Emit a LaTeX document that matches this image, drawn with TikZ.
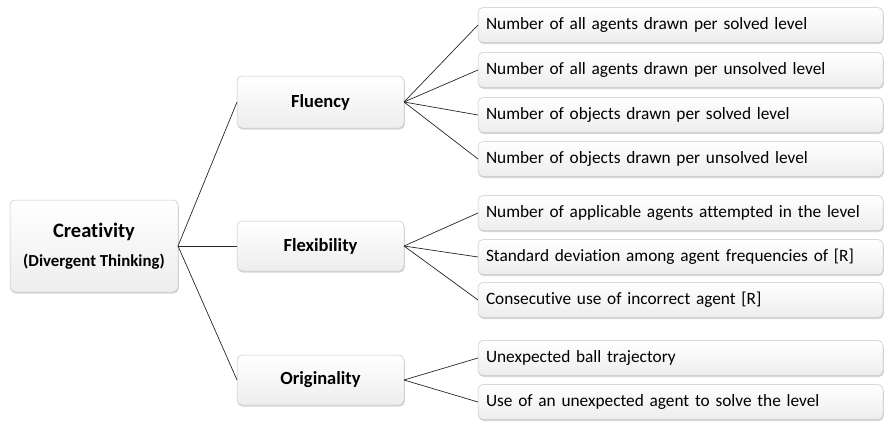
\documentclass[tikz,border=0pt]{standalone}
\usepackage{fontspec}
\setmainfont{Carlito}[Ligatures=NoCommon]
\usetikzlibrary{shadows}
\begin{document}
\begin{tikzpicture}[x=1pt,y=-1pt,
  card/.style={rounded corners=5pt, draw=gray!45, line width=0.5pt,
    top color=white, bottom color=gray!14,
    drop shadow={shadow xshift=0.8pt, shadow yshift=-1.6pt, opacity=0.45, fill=gray!70},
    inner sep=0pt, outer sep=0pt},
  topic/.style={card, minimum width=167pt, minimum height=52pt, font=\fontsize{18.5}{22}\selectfont\bfseries},
  leaf/.style={card, minimum width=405pt, minimum height=35pt, text width=389pt, align=left, font=\fontsize{17.3}{20}\selectfont},
  link/.style={draw=black!85, line width=0.7pt}]
\useasboundingbox (0,0) rectangle (887,423);
\node[card, minimum width=168pt, minimum height=92pt, align=center] (root) at (94,246)
  {{\fontsize{20.5}{24}\selectfont\bfseries Creativity}\\[12pt]{\fontsize{16.8}{19}\selectfont\bfseries (Divergent Thinking)}};
\node[topic] (flu) at (320.5,102) {Fluency};
\node[topic, minimum height=50pt] (fle) at (320.5,246) {Flexibility};
\node[topic, minimum height=50pt] (ori) at (320.5,380) {Originality};
\node[leaf] (a1) at (680.5,25) {Number of all agents drawn per solved level};
\node[leaf] (a2) at (680.5,70) {Number of all agents drawn per unsolved level};
\node[leaf] (a3) at (680.5,115) {Number of objects drawn per solved level};
\node[leaf] (a4) at (680.5,159) {Number of objects drawn per unsolved level};
\node[leaf] (b1) at (680.5,213) {Number of applicable agents attempted in the level};
\node[leaf] (b2) at (680.5,257) {Standard deviation among agent frequencies of [R]};
\node[leaf] (b3) at (680.5,300) {Consecutive use of incorrect agent [R]};
\node[leaf] (c1) at (680.5,358) {Unexpected ball trajectory};
\node[leaf] (c2) at (680.5,402) {Use of an unexpected agent to solve the level};
\foreach \t in {flu,fle,ori} \draw[link] (root.east) -- (\t.west);
\foreach \t in {a1,a2,a3,a4} \draw[link] (flu.east) -- (\t.west);
\foreach \t in {b1,b2,b3} \draw[link] (fle.east) -- (\t.west);
\foreach \t in {c1,c2} \draw[link] (ori.east) -- (\t.west);
\end{tikzpicture}
\end{document}
